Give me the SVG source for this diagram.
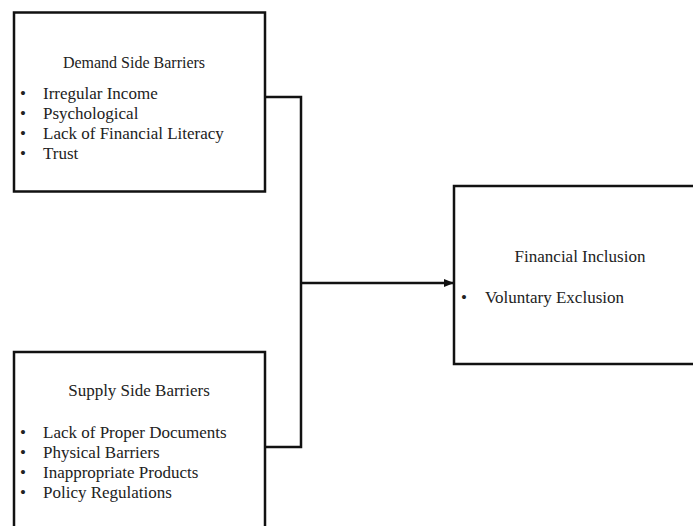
<svg xmlns="http://www.w3.org/2000/svg" width="693" height="526" viewBox="0 0 693 526">
<style>
.box{fill:#fff;stroke:#111;stroke-width:2.5}
.t{font-family:"Liberation Serif","Times New Roman",serif;font-size:17px;fill:#222}
.c{text-anchor:middle}
.conn{fill:none;stroke:#111;stroke-width:2.5}
</style>
<defs>
<marker id="arr" markerWidth="10" markerHeight="8" refX="9" refY="4" orient="auto" markerUnits="userSpaceOnUse">
<path d="M0,0 L10,4 L0,8 z" fill="#111"/>
</marker>
</defs>
<rect width="693" height="526" fill="#fff"/>
<g id="connectors">
<path class="conn" d="M265,97 H301 V447 H265"/>
<path class="conn" d="M301,283 H453" marker-end="url(#arr)"/>
</g>
<g id="demand">
<rect class="box" x="14" y="12.5" width="251" height="179"/>
<text class="t c" x="134" y="68" style="font-size:16px">Demand Side Barriers</text>
<text class="t" x="20" y="99">•</text><text class="t" x="43" y="99">Irregular Income</text>
<text class="t" x="20" y="119">•</text><text class="t" x="43" y="119">Psychological</text>
<text class="t" x="20" y="139">•</text><text class="t" x="43" y="139">Lack of Financial Literacy</text>
<text class="t" x="20" y="159">•</text><text class="t" x="43" y="159">Trust</text>
</g>
<g id="supply">
<rect class="box" x="14" y="352" width="251" height="190"/>
<text class="t c" x="139" y="396">Supply Side Barriers</text>
<text class="t" x="20" y="438">•</text><text class="t" x="43" y="438">Lack of Proper Documents</text>
<text class="t" x="20" y="458">•</text><text class="t" x="43" y="458">Physical Barriers</text>
<text class="t" x="20" y="478">•</text><text class="t" x="43" y="478">Inappropriate Products</text>
<text class="t" x="20" y="498">•</text><text class="t" x="43" y="498">Policy Regulations</text>
</g>
<g id="inclusion">
<rect class="box" x="454" y="186" width="260" height="178"/>
<text class="t c" x="580" y="262">Financial Inclusion</text>
<text class="t" x="461" y="303">•</text><text class="t" x="485" y="303">Voluntary Exclusion</text>
</g>
</svg>
